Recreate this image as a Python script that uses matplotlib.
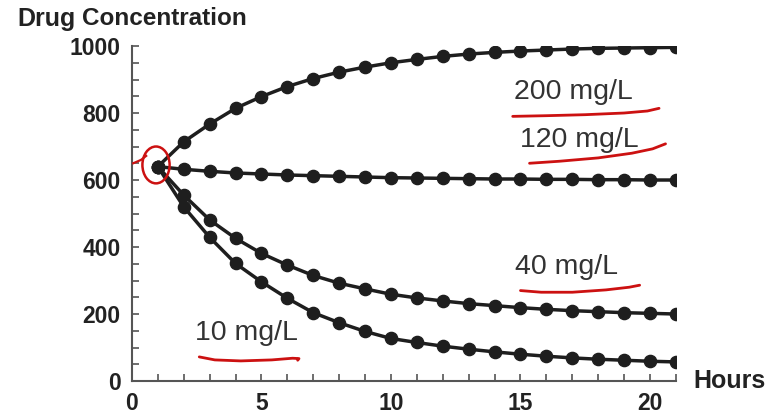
import matplotlib
matplotlib.use("Agg")
import matplotlib.pyplot as plt
from matplotlib.patches import Ellipse
from matplotlib.ticker import MultipleLocator

plt.rcParams['font.family'] = ['Liberation Sans', 'DejaVu Sans']

hours = [1, 2, 3, 4, 5, 6, 7, 8, 9, 10, 11, 12, 13, 14, 15, 16, 17, 18, 19, 20, 21]
conc_200 = [640, 714, 767, 814, 849, 879, 903, 922, 937, 950, 960, 969, 976, 981, 985, 988, 991, 993, 994, 995, 996]
conc_120 = [640, 632, 626, 621, 618, 615, 613, 611, 609, 607, 606, 605, 604, 603, 603, 602, 602, 601, 601, 600, 600]
conc_40 = [640, 555, 481, 426, 381, 346, 315, 292, 275, 259, 248, 239, 231, 225, 219, 214, 210, 207, 204, 202, 200]
conc_10 = [640, 520, 429, 351, 296, 247, 204, 174, 148, 127, 115, 104, 95, 87, 80, 74, 69, 65, 62, 59, 57]

series = [conc_200, conc_120, conc_40, conc_10]
labels = ["200 mg/L", "120 mg/L", "40 mg/L", "10 mg/L"]
label_pos = [(14.75, 863), (15.0, 719), (14.8, 340), (2.45, 143)]
underlines = [
    ([14.7, 16.0, 17.5, 19.0, 19.9, 20.35], [790, 792, 795, 800, 806, 814]),
    ([15.35, 16.5, 18.0, 19.3, 20.1, 20.6], [650, 656, 666, 680, 693, 708]),
    ([15.0, 15.8, 17.0, 18.3, 19.2, 19.6], [270, 265, 265, 272, 280, 286]),
    ([2.6, 3.2, 4.2, 5.4, 6.2, 6.45, 6.4], [72, 63, 60, 63, 68, 67, 62]),
]

fig = plt.figure(figsize=(7.76, 4.16), dpi=100)
ax = fig.add_axes([0.170, 0.0841, 0.701, 0.8053])

for s in series:
    ax.plot(hours, s, color='#1e1e1e', lw=2.5, marker='o', ms=8.8,
            markeredgecolor='#1e1e1e', markerfacecolor='#1e1e1e', clip_on=True, zorder=3)

ax.set_xlim(0, 21)
ax.set_ylim(0, 1000)
ax.xaxis.set_major_locator(MultipleLocator(5))
ax.xaxis.set_minor_locator(MultipleLocator(1))
ax.yaxis.set_major_locator(MultipleLocator(200))
ax.yaxis.set_minor_locator(MultipleLocator(50))
for sp in ['top', 'right']:
    ax.spines[sp].set_visible(False)
for sp in ['left', 'bottom']:
    ax.spines[sp].set_color('#555555')
    ax.spines[sp].set_linewidth(1.5)
ax.tick_params(which='both', direction='in', length=5, width=1.2, color='#555555')
ax.tick_params(which='major', labelsize=16.5, pad=8, labelcolor='#222222')
for lab in ax.get_xticklabels() + ax.get_yticklabels():
    lab.set_fontweight('bold')

for (x, y), t in zip(label_pos, labels):
    ax.text(x, y, t, fontsize=20.5, color='#333333', va='center', ha='left')
for xs, ys in underlines:
    ax.plot(xs, ys, color='#cc1111', lw=2.0, solid_capstyle='round', solid_joinstyle='round',
            clip_on=False, zorder=4)

ax.add_patch(Ellipse((0.93, 645), 1.05, 110, angle=0, fill=False, edgecolor='#cc1111', lw=1.8,
                     clip_on=False, zorder=5))
ax.plot([0.05, 0.35, 0.55], [650, 660, 672], color='#cc1111', lw=1.6, clip_on=False, zorder=5)

fig.text(0.022, 0.955, "Drug", fontsize=18, fontweight='bold', color='#222222', va='center', ha='left')
fig.text(0.106, 0.955, "Concentration", fontsize=17.5, fontweight='bold', color='#222222', va='center', ha='left')
fig.text(0.893, 0.084, "Hours", fontsize=18, fontweight='bold', color='#222222', va='center', ha='left')

fig.savefig("out.png", dpi=100)
